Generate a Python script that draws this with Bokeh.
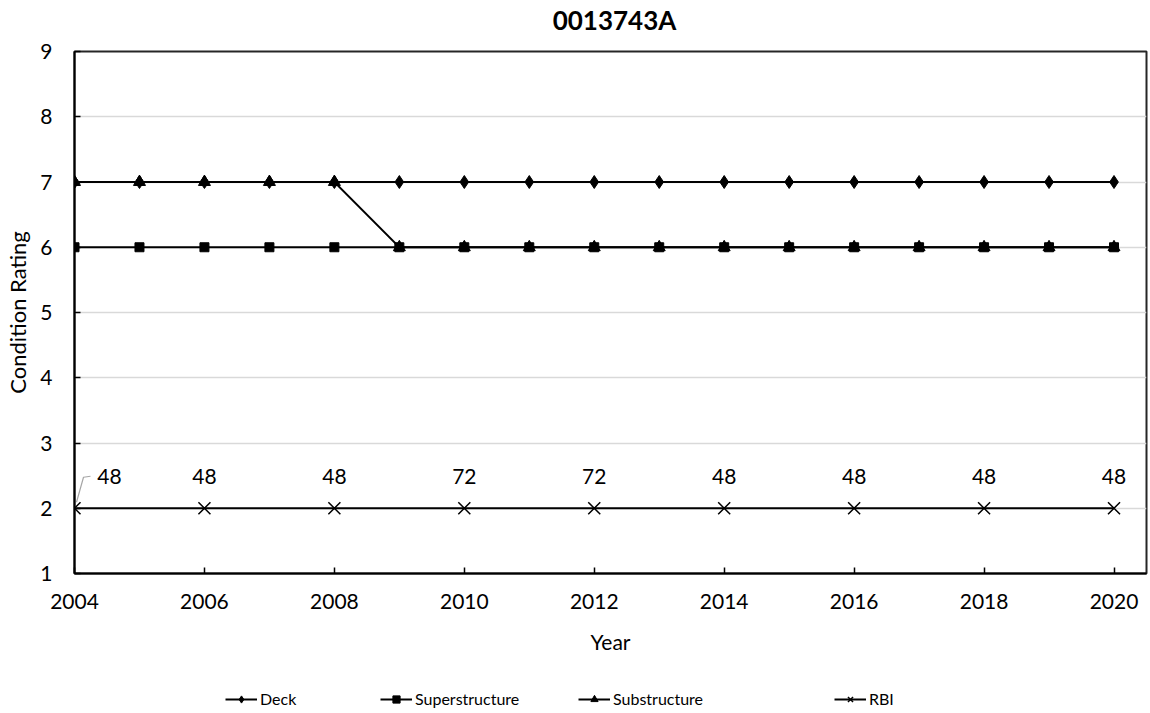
from bokeh.plotting import figure
from bokeh.models import (Range1d, FixedTicker, Legend, LegendItem, ColumnDataSource, Label)
from bokeh.layouts import column
from bokeh.core.properties import value
from bokeh.embed import file_html
from bokeh.resources import INLINE

title_text = "0013743A"
years = list(range(2004, 2021))
deck = [7] * 17
superstructure = [6] * 17
substructure = [7, 7, 7, 7, 7, 6, 6, 6, 6, 6, 6, 6, 6, 6, 6, 6, 6]
rbi_years = [2004, 2006, 2008, 2010, 2012, 2014, 2016, 2018, 2020]
rbi_values = [2] * 9
rbi_labels = ["48", "48", "48", "72", "72", "48", "48", "48", "48"]
x_ticks = list(range(2004, 2021, 2))
y_ticks = list(range(1, 10))
series_names = ["Deck", "Superstructure", "Substructure", "RBI"]

FONT = "Lato"
W = 1150


def blank(height, xr, yr):
    f = figure(width=W, height=height, output_backend="svg", toolbar_location=None,
               x_range=xr, y_range=yr, x_axis_type=None, y_axis_type=None,
               min_border=0)
    f.grid.visible = False
    f.outline_line_color = None
    f.background_fill_color = "white"
    f.border_fill_color = "white"
    return f


# ---- header with title (frame is aligned with the main chart's frame)
head = blank(35, Range1d(0, 1), Range1d(0, 1))
head.add_layout(Label(x=540, y=16, x_units="screen", y_units="screen", text=title_text,
                      text_align="center", text_baseline="middle", text_font=FONT,
                      text_font_size="26px", text_font_style="bold", text_color="black"))

# ---- main chart
p = figure(width=W, height=638, output_backend="svg", toolbar_location=None,
           x_range=Range1d(2004, 2020.5), y_range=Range1d(1, 9),
           min_border_left=74, min_border_right=4, min_border_top=16, min_border_bottom=100)
p.outline_line_color = "#262626"
p.outline_line_width = 2
p.background_fill_color = "white"
p.border_fill_color = "white"

p.xgrid.visible = False
p.ygrid.grid_line_color = "#d9d9d9"
p.ygrid.grid_line_width = 1.5

for ax in (p.xaxis[0], p.yaxis[0]):
    ax.axis_line_color = "black"
    ax.axis_line_width = 2
    ax.major_tick_in = 6
    ax.major_tick_out = 0
    ax.major_tick_line_color = "black"
    ax.major_tick_line_width = 1.5
    ax.minor_tick_line_color = None
    ax.major_label_text_font = FONT
    ax.major_label_text_font_size = "21px"
    ax.major_label_text_color = "black"
    ax.axis_label_text_font = FONT
    ax.axis_label_text_font_size = "21px"
    ax.axis_label_text_font_style = "normal"
    ax.axis_label_text_color = "black"

p.yaxis.axis_label_text_font_size = "22px"
p.xaxis.ticker = FixedTicker(ticks=x_ticks)
p.yaxis.ticker = FixedTicker(ticks=y_ticks)
p.xaxis.axis_label = "Year"
p.yaxis.axis_label = "Condition Rating"
p.xaxis.major_label_standoff = 20
p.yaxis.major_label_standoff = 22
p.xaxis.axis_label_standoff = 17
p.yaxis.axis_label_standoff = 6

LW = 1.8
p.line(years, deck, line_color="black", line_width=LW)
p.scatter(years, deck, marker="diamond", size=13, fill_color="black", line_color="black")
p.line(years, superstructure, line_color="black", line_width=LW)
p.scatter(years, superstructure, marker="square", size=9, fill_color="black", line_color="black")
p.line(years, substructure, line_color="black", line_width=LW)
p.scatter(years, substructure, marker="triangle", size=12, fill_color="black", line_color="black")
p.line(rbi_years, rbi_values, line_color="black", line_width=LW)
p.scatter(rbi_years, rbi_values, marker="x", size=17, line_color="black", line_width=1.5)

# data labels
x_offsets = [35] + [0] * (len(rbi_years) - 1)
src = ColumnDataSource(dict(x=rbi_years, y=rbi_values, t=rbi_labels, xo=x_offsets))
p.text(x="x", y="y", text="t", x_offset="xo", y_offset=-32, source=src,
       text_align="center", text_baseline="middle", text_font=value(FONT),
       text_font_size="21px", text_color="black")

# leader line for first label (pixel offsets converted to data units)
px_x = 16.5 / 1072.0
px_y = 8.0 / 522.0
lx = [rbi_years[0] + 2 * px_x, rbi_years[0] + 9 * px_x, rbi_years[0] + 16 * px_x]
ly = [rbi_values[0] + 6 * px_y, rbi_values[0] + 31 * px_y, rbi_values[0] + 32 * px_y]
p.line(lx, ly, line_color="#a6a6a6", line_width=1.2)

# ---- footer with legend (legend glyph renderers lie outside the footer's range)
foot = blank(40, Range1d(0, 1), Range1d(0, 1))
r = []
for ys, mk, sz in [(deck, "diamond", 13), (superstructure, "square", 9),
                   (substructure, "triangle", 12)]:
    r.append((foot.line(years, ys, line_color="black", line_width=LW),
              foot.scatter(years, ys, marker=mk, size=sz, fill_color="black", line_color="black")))
r.append((foot.line(rbi_years, rbi_values, line_color="black", line_width=LW),
          foot.scatter(rbi_years, rbi_values, marker="x", size=17, line_color="black", line_width=1.5)))

legend_x = [151, 306, 504, 760]  # legend entry positions, pixels from frame left
for name, rr, lxp in zip(series_names, r, legend_x):
    lg = Legend(items=[LegendItem(label=name, renderers=list(rr))],
                orientation="horizontal", location=(lxp, 5))
    lg.border_line_color = None
    lg.background_fill_alpha = 0
    lg.label_text_font = FONT
    lg.label_text_font_size = "16px"
    lg.label_text_color = "black"
    lg.glyph_width = 32
    lg.glyph_height = 18
    lg.label_standoff = 3
    lg.padding = 4
    lg.margin = 0
    foot.add_layout(lg, "center")

layout = column(head, p, foot, spacing=0)
open("out.html", "w").write(file_html(layout, INLINE))
